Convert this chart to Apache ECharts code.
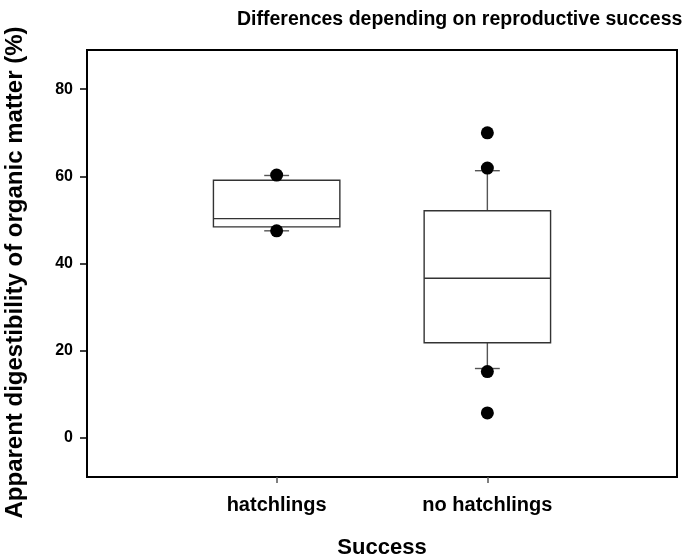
<!DOCTYPE html>
<html>
<head>
<meta charset="utf-8">
<script src="https://cdn.jsdelivr.net/npm/echarts@6/dist/echarts.min.js"></script>
<style>
  html, body { margin: 0; padding: 0; background: #fff; }
  #main { width: 685px; height: 556px; }
</style>
</head>
<body>
<div id="main"></div>
<script>
// categories on the x axis, placed at 1 and 2
var categories = ['hatchlings', 'no hatchlings'];
var positions = [1, 2];
// [lowCap, q1, median, q3, highCap]
var boxStats = [
    [47.5, 48.4, 50.3, 59.1, 60.2],
    [15.9, 21.8, 36.6, 52.1, 61.3]
];
// [position, value]
var outlierPoints = [
    [1, 60.3], [1, 47.5],
    [2, 70.0], [2, 61.9], [2, 15.2], [2, 5.7]
];
var yTicks = [0, 20, 40, 60, 80];

var chart = echarts.init(document.getElementById('main'));
var fontFam = '"Liberation Sans", Arial, sans-serif';

var boxData = [];
for (var i = 0; i < boxStats.length; i++) {
    boxData.push([positions[i]].concat(boxStats[i]));
}

function renderBox(params, api) {
    var x = api.value(0);
    var low = api.coord([x, api.value(1)]);
    var q1 = api.coord([x, api.value(2)]);
    var med = api.coord([x, api.value(3)]);
    var q3 = api.coord([x, api.value(4)]);
    var high = api.coord([x, api.value(5)]);
    var halfW = api.size([0.3, 0])[0];
    var capW = api.size([0.059, 0])[0];
    var cx = q1[0];
    var boxStyle = { stroke: '#333', lineWidth: 1.4, fill: 'none' };
    var whiskStyle = { stroke: '#555', lineWidth: 1.4 };
    return {
        type: 'group',
        children: [
            { type: 'line', shape: { x1: cx, y1: q3[1], x2: cx, y2: high[1] }, style: whiskStyle },
            { type: 'line', shape: { x1: cx, y1: q1[1], x2: cx, y2: low[1] }, style: whiskStyle },
            { type: 'line', shape: { x1: cx - capW, y1: high[1], x2: cx + capW, y2: high[1] }, style: whiskStyle },
            { type: 'line', shape: { x1: cx - capW, y1: low[1], x2: cx + capW, y2: low[1] }, style: whiskStyle },
            { type: 'rect', shape: { x: cx - halfW, y: q3[1], width: halfW * 2, height: q1[1] - q3[1] }, style: boxStyle },
            { type: 'line', shape: { x1: cx - halfW, y1: med[1], x2: cx + halfW, y2: med[1] }, style: boxStyle }
        ]
    };
}

var option = {
    backgroundColor: '#fff',
    animation: false,
    title: {
        text: 'Differences depending on reproductive success',
        left: 232,
        top: 5,
        textStyle: { fontFamily: fontFam, fontSize: 19.5, fontWeight: 'bold', color: '#000' }
    },
    grid: {
        left: 87, top: 50, right: 8, bottom: 79,
        outerBoundsMode: 'none',
        containLabel: false,
        show: true, borderColor: '#000', borderWidth: 2
    },
    xAxis: {
        type: 'value',
        min: 0.1, max: 2.9,
        name: 'Success',
        nameLocation: 'middle',
        nameGap: 60,
        nameTextStyle: { fontFamily: fontFam, fontSize: 22, fontWeight: 'bold', color: '#000' },
        axisLine: { onZero: false, lineStyle: { color: '#000', width: 2 } },
        axisTick: { show: true, customValues: positions, length: 6, lineStyle: { color: '#555', width: 1.5 } },
        axisLabel: {
            customValues: positions, margin: 18,
            fontFamily: fontFam, fontSize: 20, fontWeight: 'bold', color: '#000',
            formatter: function (v) { return categories[Math.round(v) - 1]; }
        },
        splitLine: { show: false }
    },
    yAxis: {
        type: 'value',
        min: -9, max: 89,
        name: 'Apparent digestibility of organic matter (%)',
        nameLocation: 'middle',
        nameGap: 60,
        nameTextStyle: {
            fontFamily: fontFam, fontSize: 24, fontWeight: 'bold', color: '#000',
            padding: [0, 18, 0, 0]
        },
        axisLine: { show: true, lineStyle: { color: '#000', width: 2 } },
        axisTick: { show: true, customValues: yTicks, length: 7, lineStyle: { color: '#000', width: 1.5 } },
        axisLabel: {
            customValues: yTicks, margin: 14,
            fontFamily: fontFam, fontSize: 16, fontWeight: 'bold', color: '#000'
        },
        splitLine: { show: false }
    },
    series: [
        {
            type: 'custom',
            renderItem: renderBox,
            data: boxData,
            encode: { x: 0, y: [1, 2, 3, 4, 5] },
            z: 2
        },
        {
            type: 'scatter',
            data: outlierPoints,
            symbol: 'circle',
            symbolSize: 13,
            itemStyle: { color: '#000', opacity: 1 },
            z: 3
        }
    ]
};
chart.setOption(option);
</script>
</body>
</html>
